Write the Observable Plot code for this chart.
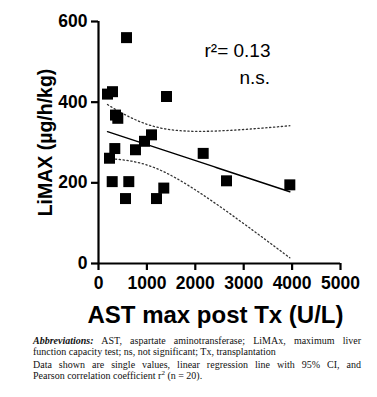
<!DOCTYPE html>
<html>
<head>
<meta charset="utf-8">
<script src="https://cdn.jsdelivr.net/npm/d3@7"></script>
<script src="https://cdn.jsdelivr.net/npm/@observablehq/plot@0.6"></script>
<style>
  html, body { margin: 0; padding: 0; background: #fff; }
  #chart svg { display: block; }
  .cap { margin-left: 33px; width: 328px; font-family: "Liberation Serif", "Times New Roman", serif; font-size: 10px; line-height: 11px; color: #111; padding-top: 5px; }
  .cap div { text-align: justify; text-align-last: justify; white-space: nowrap; }
  .cap div.l { text-align-last: left; }
  .cap .p2 { margin-top: 2px; }
</style>
</head>
<body>
<div id="chart"></div>
<div class="cap">
  <div><b><i>Abbreviations:</i></b> AST, aspartate aminotransferase; LiMAx, maximum liver</div>
  <div class="l">function capacity test; ns, not significant; Tx, transplantation</div>
  <div class="p2">Data shown are single values, linear regression line with 95% CI, and</div>
  <div class="l">Pearson correlation coefficient r<sup style="font-size:7px;line-height:0">2</sup> (n = 20).</div>
</div>
<script>
// Data
const ast   = [579, 186, 289, 351, 399, 1405, 337, 227, 283, 626, 558, 764, 950, 1095, 1198, 1349, 2163, 2645, 3953];
const limax = [560, 420, 426, 368, 360, 414, 285, 261, 203, 203, 161, 282, 303, 319, 161, 187, 273, 205, 195];
const xTicks = [0, 1000, 2000, 3000, 4000, 5000];
const yTicks = [0, 200, 400, 600];
const statText = "r\u00B2= 0.13";
const sigText = "n.s.";
const xLabel = "AST max post Tx (U/L)";
const yLabel = "LiMAX (\u00B5g/h/kg)";

const points = ast.map((x, i) => ({x, y: limax[i]}));

// Linear regression with 95% confidence band
const n = points.length;
const mx = d3.mean(ast), my = d3.mean(limax);
const sxx = d3.sum(ast, x => (x - mx) ** 2);
const sxy = d3.sum(points, p => (p.x - mx) * (p.y - my));
const slope = sxy / sxx;
const intercept = my - slope * mx;
const sse = d3.sum(points, p => (p.y - (intercept + slope * p.x)) ** 2);
const s = Math.sqrt(sse / (n - 2));
const tCrit = 2.11; // t(0.975, df = 17)
const [x0, x1] = d3.extent(ast);
const fit = d3.range(0, 61).map(i => {
  const x = x0 + (x1 - x0) * i / 60;
  const yhat = intercept + slope * x;
  const se = s * Math.sqrt(1 / n + (x - mx) ** 2 / sxx);
  return {x, yhat, lo: yhat - tCrit * se, hi: yhat + tCrit * se};
});

const font = "Liberation Sans, Arial, Helvetica, sans-serif";

const chart = Plot.plot({
  width: 377,
  height: 330,
  marginLeft: 98,
  marginRight: 37,
  marginTop: 21,
  marginBottom: 67,
  style: {fontFamily: font, fontWeight: "bold", fontSize: "17px", color: "black", background: "white"},
  x: {domain: [0, 5000]},
  y: {domain: [0, 600]},
  marks: [
    Plot.line(fit, {x: "x", y: "hi", stroke: "#333", strokeWidth: 1.3, strokeDasharray: "1.3,2.6"}),
    Plot.line(fit, {x: "x", y: "lo", stroke: "#333", strokeWidth: 1.3, strokeDasharray: "1.3,2.6"}),
    Plot.line(fit, {x: "x", y: "yhat", stroke: "black", strokeWidth: 1.4}),
    Plot.dot(points, {x: "x", y: "y", symbol: "square", r: 6.2, fill: "black", stroke: "none"}),
    Plot.ruleY([0], {stroke: "black", strokeWidth: 2.2}),
    Plot.ruleX([0], {stroke: "black", strokeWidth: 2.2}),
    Plot.axisX({ticks: xTicks, tickSize: 7, tickPadding: 6, strokeWidth: 2.2, tickFormat: d => String(d), fontSize: 17.5, fontWeight: "bold", label: null}),
    Plot.axisY({ticks: yTicks, tickSize: 7, tickPadding: 4, strokeWidth: 2.2, tickFormat: d => String(d), fontSize: 17.5, fontWeight: "bold", label: null}),
    Plot.text([statText], {frameAnchor: "top-left", dx: 106, dy: 29, textAnchor: "start", lineAnchor: "middle", fontSize: 19, fontWeight: "normal", fill: "black"}),
    Plot.text([sigText], {frameAnchor: "top-left", dx: 141, dy: 56, textAnchor: "start", lineAnchor: "middle", fontSize: 19, fontWeight: "normal", fill: "black"}),
    Plot.text([xLabel], {frameAnchor: "bottom", dx: -4, dy: 52, textAnchor: "middle", lineAnchor: "middle", fontSize: 24, fontWeight: "bold", fill: "black"}),
    Plot.text([yLabel], {frameAnchor: "left", dx: -53, dy: 0, textAnchor: "middle", lineAnchor: "middle", rotate: -90, fontSize: 19.5, fontWeight: "bold", fill: "black"})
  ]
});
document.getElementById("chart").append(chart);
</script>
</body>
</html>
